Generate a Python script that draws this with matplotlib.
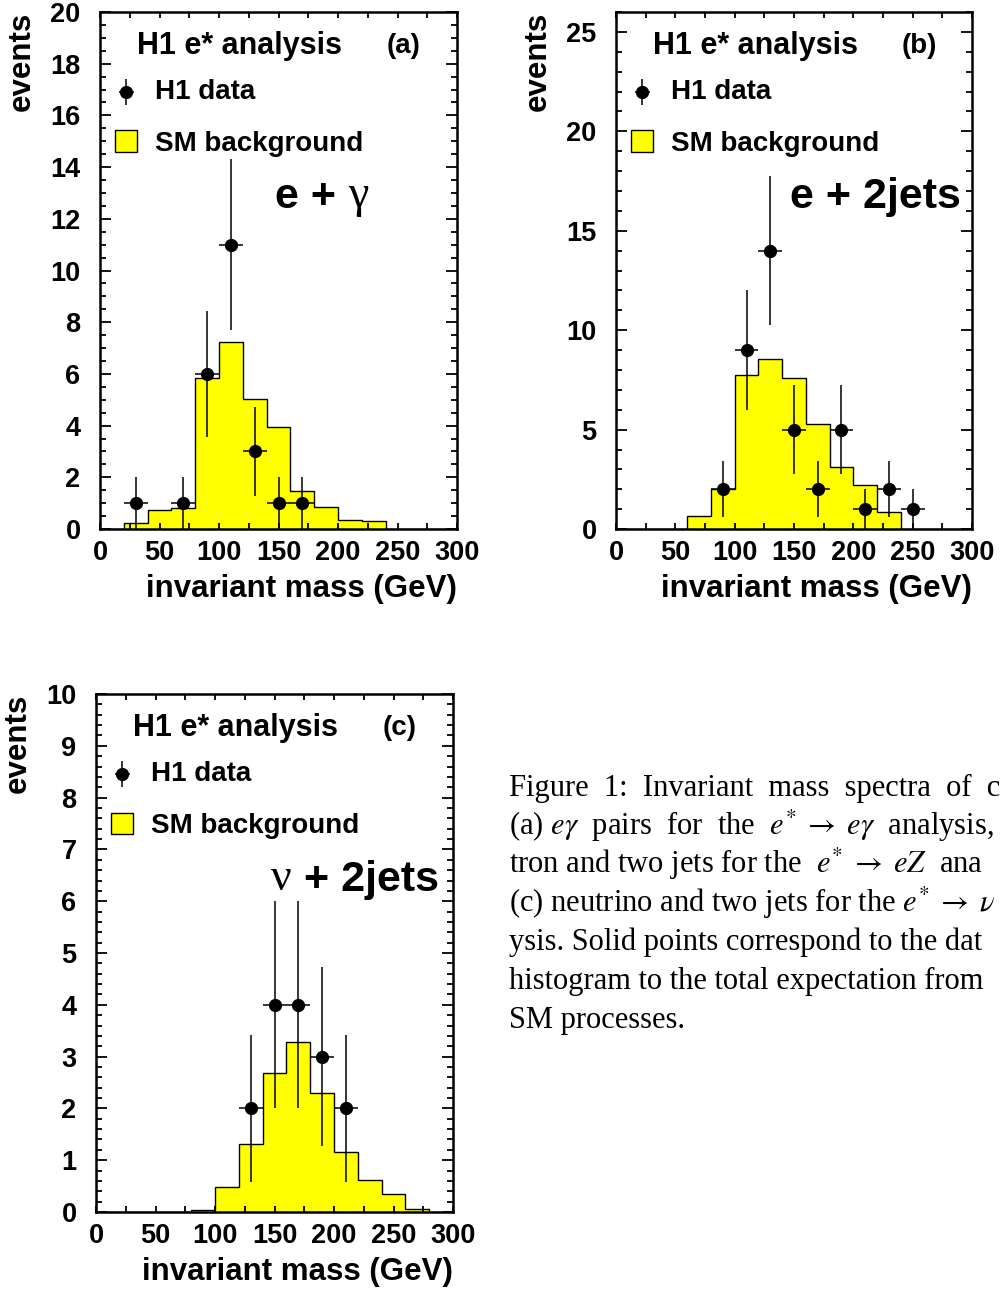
import numpy as np
import matplotlib
matplotlib.use("Agg")
import matplotlib.pyplot as plt
from matplotlib.patches import Rectangle
from matplotlib.ticker import MultipleLocator

plt.rcParams['font.family'] = ['Liberation Sans', 'DejaVu Sans']

# 20 GeV bins from 0 to 300 GeV
mass_edges = [0, 20, 40, 60, 80, 100, 120, 140, 160, 180, 200, 220, 240, 260, 280, 300]

# (a) e + gamma
bkg_a = [0, 0.23, 0.72, 0.83, 5.84, 7.23, 5.03, 3.95, 1.46, 0.85, 0.34, 0.31, 0, 0, 0]
data_x_a = [30, 70, 90, 110, 130, 150, 170]
data_y_a = [1, 1, 6, 11, 3, 1, 1]

# (b) e + 2jets
bkg_b = [0, 0, 0, 0.67, 1.99, 7.75, 8.56, 7.59, 5.29, 3.13, 2.21, 0.85, 0, 0, 0]
data_x_b = [90, 110, 130, 150, 170, 190, 210, 230, 250]
data_y_b = [2, 9, 14, 5, 2, 5, 1, 2, 1]

# (c) nu + 2jets
bkg_c = [0, 0, 0, 0, 0.03, 0.48, 1.31, 2.69, 3.29, 2.30, 1.15, 0.61, 0.35, 0.05, 0]
data_x_c = [130, 150, 170, 190, 210]
data_y_c = [2, 4, 4, 3, 2]

YELLOW = '#ffff00'

fig = plt.figure(figsize=(10, 12.91), dpi=100)


def panel(rect, bkg, dx, dy, ymax, ymaj, ymin, tag, chan1, chan2, greek_first):
    ax = fig.add_axes(rect)
    ax.stairs(bkg, mass_edges, fill=True, facecolor=YELLOW, edgecolor='black', linewidth=1.0)
    dy = np.array(dy, dtype=float)
    ax.errorbar(dx, dy, xerr=10, yerr=np.sqrt(dy), fmt='o', color='black',
                markersize=8.5, elinewidth=1.1, capsize=0, zorder=3)
    ax.set_xlim(0, 300)
    ax.set_ylim(0, ymax)
    ax.xaxis.set_major_locator(MultipleLocator(50))
    ax.xaxis.set_minor_locator(MultipleLocator(25))
    ax.yaxis.set_major_locator(MultipleLocator(ymaj))
    ax.yaxis.set_minor_locator(MultipleLocator(ymin))
    ax.tick_params(which='both', direction='in', top=True, right=True, width=1.3, labelsize=19.5)
    ax.tick_params(axis='x', which='both', length=4, pad=8)
    ax.tick_params(axis='y', which='major', length=8, pad=14)
    ax.tick_params(axis='y', which='minor', length=4)
    plt.setp(ax.get_xticklabels() + ax.get_yticklabels(), fontweight='bold')
    for s in ax.spines.values():
        s.set_linewidth(1.8)
    ax.set_xlabel('invariant mass (GeV)', fontsize=22.5, fontweight='bold', loc='right', labelpad=6)
    ax.set_ylabel('events', fontsize=22.5, fontweight='bold', loc='top')
    ax.yaxis.set_label_coords(-0.178, 1.0)

    ax.text(0.104, 0.934, 'H1 e* analysis', transform=ax.transAxes, fontsize=22,
            weight='bold', va='center')
    ax.text(0.802, 0.934, tag, transform=ax.transAxes, fontsize=20, weight='bold', va='center')
    # legend
    ax.errorbar([0.074], [0.846], xerr=0.022, yerr=0.025, fmt='o', color='black',
                markersize=8.5, elinewidth=1.1, transform=ax.transAxes, clip_on=False)
    ax.text(0.154, 0.846, 'H1 data', transform=ax.transAxes, fontsize=20, weight='bold',
            va='center')
    ax.add_patch(Rectangle((0.043, 0.729), 0.062, 0.042, transform=ax.transAxes,
                           facecolor=YELLOW, edgecolor='black', linewidth=1.0))
    ax.text(0.154, 0.745, 'SM background', transform=ax.transAxes, fontsize=20,
            weight='bold', va='center')
    # channel label
    if greek_first:
        t1 = ax.text(0.490, 0.603, chan1, transform=ax.transAxes, fontsize=33,
                     family='Liberation Serif', va='bottom')
        ax.annotate(chan2, xy=(1, 0), xycoords=t1, fontsize=31, weight='bold',
                    va='bottom', ha='left')
    else:
        t1 = ax.text(0.490, 0.603, chan1, transform=ax.transAxes, fontsize=31,
                     weight='bold', va='bottom')
        if chan2:
            ax.annotate(chan2, xy=(1, 0), xycoords=t1, fontsize=33, va='bottom', ha='left',
                        family='Liberation Serif')
    return ax


panel([0.100, 0.5902, 0.357, 0.4005], bkg_a, data_x_a, data_y_a, 20, 2, 0.5,
      '(a)', 'e + ', '\u03b3', False)
panel([0.616, 0.5902, 0.356, 0.4005], bkg_b, data_x_b, data_y_b, 26, 5, 1,
      '(b)', 'e + 2jets', '', False)
panel([0.096, 0.0612, 0.357, 0.4012], bkg_c, data_x_c, data_y_c, 10, 1, 0.2,
      '(c)', '\u03bd', ' + 2jets', True)

caption = [
    r"Figure  1:  Invariant  mass  spectra  of  c",
    r"(a) $e\gamma$  pairs  for  the  $e^{*}\;\rightarrow\;e\gamma$  analysis,",
    r"tron and two jets for the  $e^{*}\;\rightarrow\;eZ$  ana",
    r"(c) neutrino and two jets for the $e^{*}\;\rightarrow\;\nu$",
    r"ysis. Solid points correspond to the dat",
    r"histogram to the total expectation from",
    r"SM processes.",
]
for i, line in enumerate(caption):
    fig.text(0.509, 1 - (796 + 38.6 * i) / 1291, line, fontsize=22,
             family='Liberation Serif', math_fontfamily='stix', va='baseline')

fig.savefig('out.png', dpi=100)
